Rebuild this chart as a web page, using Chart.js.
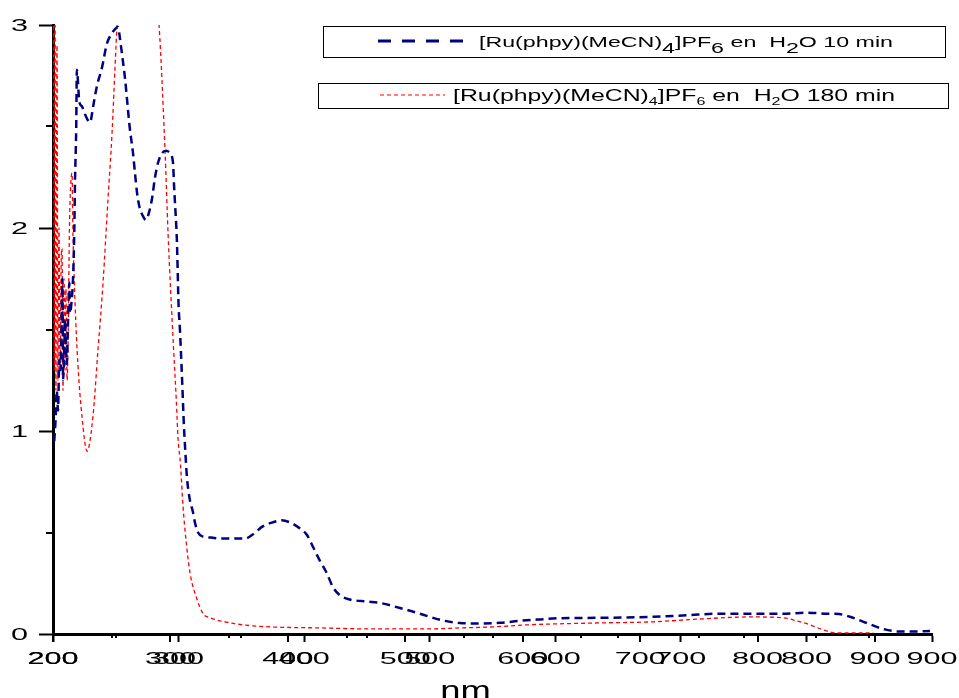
<!DOCTYPE html>
<html>
<head>
<meta charset="utf-8">
<script src="https://cdn.jsdelivr.net/npm/chart.js@4.4.1/dist/chart.umd.min.js"></script>
<style>
  html, body { margin: 0; padding: 0; background: #fff; }
  #wrap { width: 959px; height: 698px; }
</style>
</head>
<body>
<div id="wrap"><canvas id="spectra" width="959" height="698"></canvas></div>
<script>
'use strict';

// ── Data ──
// 10 min spectrum, plotted against the lower (200–900) axis
const blueNm = [
  201, 202, 203, 204, 205, 206, 207, 207.5, 208, 209, 209.5, 210, 211, 212, 213, 213.5, 214.5, 216, 217, 217.5,
  218.5, 219, 221, 223, 225.5, 229.5, 232, 235, 239, 243, 246, 249.4, 251.8, 253.4, 255.5, 257.3, 259, 261,
  263.7, 265.3, 267, 269, 271.5, 274, 277, 279, 281, 283.6, 287, 290, 293, 295.6, 296.4, 297, 298.7, 300, 301,
  302.7, 304.3, 305, 306.7, 309, 311.5, 313, 315.5, 319.5, 326, 333, 340, 346.5, 353, 359, 367, 375, 382,
  388.7, 396.7, 402, 407, 412.6, 418, 423, 428.6, 436.5, 450, 460.4, 476.3, 492.3, 508.2, 524, 540, 556, 572,
  588, 603.8, 643.6, 677.8, 705, 728.8, 755, 781.3, 800, 816.4, 826, 834.7, 848, 861, 874.5, 886, 898.4
];
const blueAbs = [
  0.95, 1.05, 1.2, 1.1, 1.35, 1.3, 1.6, 1.75, 1.25, 1.4, 1.55, 1.45, 1.33, 1.55, 1.73, 1.58, 1.62, 1.76, 2.0, 2.22,
  2.5, 2.78, 2.62, 2.6, 2.56, 2.52, 2.6, 2.7, 2.79, 2.91, 2.95, 2.98, 2.99, 2.93, 2.83, 2.74, 2.63, 2.5,
  2.37, 2.27, 2.17, 2.1, 2.06, 2.04, 2.09, 2.15, 2.24, 2.32, 2.37, 2.38, 2.37, 2.32, 2.21, 2.14, 1.93, 1.62, 1.51,
  1.27, 1.02, 0.94, 0.77, 0.66, 0.6, 0.55, 0.5, 0.48, 0.475, 0.47, 0.47, 0.47, 0.47, 0.49, 0.53, 0.55, 0.56,
  0.55, 0.52, 0.49, 0.43, 0.36, 0.3, 0.23, 0.19, 0.17, 0.16, 0.153, 0.128, 0.1, 0.07, 0.054, 0.052, 0.055, 0.065,
  0.072, 0.078, 0.08, 0.085, 0.092, 0.1, 0.1, 0.1, 0.105, 0.1, 0.098, 0.085, 0.054, 0.025, 0.012, 0.012, 0.015
];

// 180 min spectrum, plotted against the second, compressed axis
const redNm = [
  200.5, 201, 201.7, 202.5, 203.4, 204.2, 205.1, 206, 207, 207.7, 208.5, 209.4, 210.2, 211, 212, 213, 214, 215,
  216.2, 217, 218.7, 221.3, 224.7, 229, 234, 238.3, 242.6, 246.8, 250.3, 252.8, 254.5, 258, 264, 271, 278, 285,
  290.3, 295.4, 298, 302, 305, 306.5, 308.5, 310.7, 313.3, 316.7, 322.7, 327.8, 333.7, 350.8, 361.8, 384.8,
  427.4, 470, 518.6, 546.7, 574.8, 603.7, 660, 711, 751, 793.7, 821.8, 833.7, 844.8, 855.9, 867.8, 898.5
];
const redAbs = [
  3.2, 1.3, 3.1, 1.2, 2.9, 1.25, 2.0, 1.3, 1.85, 1.9, 1.2, 1.75, 1.3, 1.7, 1.25, 1.5, 2.0, 2.2,
  2.27, 1.97, 1.64, 1.32, 1.07, 0.9, 1.07, 1.4, 1.73, 2.14, 2.47, 2.79, 2.99, 3.3, 3.55, 3.65, 3.55, 3.3,
  3.0, 2.38, 1.97, 1.48, 1.15, 0.96, 0.84, 0.63, 0.46, 0.3, 0.17, 0.1, 0.08, 0.055, 0.045, 0.035,
  0.03, 0.025, 0.025, 0.03, 0.035, 0.045, 0.054, 0.06, 0.074, 0.084, 0.08, 0.064, 0.045, 0.02, 0.005, 0.005
];

const xTicks = [200, 300, 400, 500, 600, 700, 800, 900];
const xMinorTicks = [250, 350, 450, 550, 650, 750, 850];
const yTicks = [0, 1, 2, 3];
const yMinorTicks = [0.5, 1.5, 2.5];

// legend text, [piece, isSubscript]
const seriesLabels = [
  [['[Ru(phpy)(MeCN)', 0], ['4', 1], [']PF', 0], ['6', 1], [' en  H', 0], ['2', 1], ['O 10 min', 0]],
  [['[Ru(phpy)(MeCN)', 0], ['4', 1], [']PF', 0], ['6', 1], [' en  H', 0], ['2', 1], ['O 180 min', 0]],
];
const axisTitle = 'nm';

const FONT = "'Liberation Sans', Arial, sans-serif";

// ── helpers ──
function tick(ctx, x1, y1, x2, y2) {
  ctx.beginPath();
  ctx.moveTo(x1, y1);
  ctx.lineTo(x2, y2);
  ctx.stroke();
}

// the original picture is stretched sideways, so text gets a horizontal scale
function wideText(ctx, text, x, y, size, sx, align) {
  ctx.save();
  ctx.translate(x, y);
  ctx.scale(sx, 1);
  ctx.font = size + 'px ' + FONT;
  ctx.textAlign = align || 'center';
  ctx.textBaseline = 'alphabetic';
  ctx.fillStyle = '#000';
  ctx.fillText(text, 0, 0);
  ctx.restore();
}

function legendText(ctx, parts, x, y, size, subSize, subDrop, width) {
  let natural = 0;
  parts.forEach(([t, sub]) => {
    ctx.font = (sub ? subSize : size) + 'px ' + FONT;
    natural += ctx.measureText(t).width;
  });
  ctx.save();
  ctx.translate(x, y);
  ctx.scale(width / natural, 1);
  ctx.fillStyle = '#000';
  ctx.textAlign = 'left';
  ctx.textBaseline = 'alphabetic';
  let cx = 0;
  parts.forEach(([t, sub]) => {
    ctx.font = (sub ? subSize : size) + 'px ' + FONT;
    ctx.fillText(t, cx, sub ? subDrop : 0);
    cx += ctx.measureText(t).width;
  });
  ctx.restore();
}

// ── axes labels, extra ticks and legend boxes ──
const decorPlugin = {
  id: 'decor',
  afterDraw(chart) {
    const ctx = chart.ctx;
    const { x, x2, y } = chart.scales;
    const area = chart.chartArea;
    ctx.save();
    ctx.strokeStyle = '#000';
    ctx.lineWidth = 2;

    yMinorTicks.forEach((v) => {
      const py = Math.round(y.getPixelForValue(v));
      tick(ctx, area.left - 7, py, area.left, py);
    });
    xMinorTicks.forEach((v) => {
      const p1 = Math.round(x.getPixelForValue(v));
      const p2 = Math.round(x2.getPixelForValue(v));
      tick(ctx, p1, area.bottom, p1, area.bottom + 4);
      tick(ctx, p2, area.bottom, p2, area.bottom + 4);
    });
    xTicks.forEach((v) => {
      const p2 = Math.round(x2.getPixelForValue(v));
      tick(ctx, p2, area.bottom, p2, area.bottom + 8);
    });

    // tick labels, both x axes
    xTicks.forEach((v) => {
      wideText(ctx, String(v), x2.getPixelForValue(v), 664, 17, 1.8);
      wideText(ctx, String(v), x.getPixelForValue(v), 664, 17, 1.8);
    });
    yTicks.forEach((v) => {
      wideText(ctx, String(v), 28, y.getPixelForValue(v) + 6, 17, 1.8, 'right');
    });
    wideText(ctx, axisTitle, (area.left + area.right) / 2 - 27, 699, 26, 1.4);

    // legend 1
    ctx.lineWidth = 1;
    ctx.strokeRect(323.5, 26.5, 622, 31);
    ctx.strokeStyle = '#000080';
    ctx.lineWidth = 3;
    ctx.setLineDash([13, 11]);
    tick(ctx, 378, 41, 470, 41);
    ctx.setLineDash([]);
    legendText(ctx, seriesLabels[0], 479, 47, 15, 15, 6, 414);

    // legend 2
    ctx.strokeStyle = '#000';
    ctx.lineWidth = 1;
    ctx.strokeRect(318.5, 83.5, 630, 25);
    ctx.strokeStyle = '#ff0000';
    ctx.lineWidth = 1.2;
    ctx.setLineDash([4, 3]);
    tick(ctx, 380, 95, 445, 95);
    ctx.setLineDash([]);
    legendText(ctx, seriesLabels[1], 453, 101, 17, 11, 4, 442);
    ctx.restore();
  }
};

const toPoints = (xs, ys) => xs.map((v, i) => ({ x: v, y: ys[i] }));

new Chart(document.getElementById('spectra'), {
  type: 'line',
  data: {
    datasets: [
      {
        label: '[Ru(phpy)(MeCN)4]PF6 en H2O 10 min',
        data: toPoints(blueNm, blueAbs),
        xAxisID: 'x',
        yAxisID: 'y',
        borderColor: '#000080',
        borderWidth: 2.5,
        borderDash: [8, 5],
        pointRadius: 0,
        fill: false,
        cubicInterpolationMode: 'monotone',
      },
      {
        label: '[Ru(phpy)(MeCN)4]PF6 en H2O 180 min',
        data: toPoints(redNm, redAbs),
        xAxisID: 'x2',
        yAxisID: 'y',
        borderColor: '#ff0000',
        borderWidth: 1.3,
        borderDash: [4, 3],
        pointRadius: 0,
        fill: false,
        cubicInterpolationMode: 'monotone',
      },
    ],
  },
  options: {
    responsive: false,
    animation: false,
    layout: { padding: { top: 25, right: 27, left: 0, bottom: 0 } },
    plugins: { legend: { display: false }, tooltip: { enabled: false } },
    scales: {
      x: {
        type: 'linear', position: 'bottom', min: 200, max: 900,
        ticks: { display: false, stepSize: 100 },
        grid: { drawOnChartArea: false, tickLength: 8, tickWidth: 2, tickColor: '#000' },
        border: { color: '#000', width: 3 },
        afterFit: (s) => { s.height = 64; },
      },
      x2: {
        type: 'linear', position: 'bottom', min: 200, max: 948.5,
        display: false,
      },
      y: {
        min: 0, max: 3,
        ticks: { display: false, stepSize: 1 },
        grid: { drawOnChartArea: false, tickLength: 14, tickWidth: 2, tickColor: '#000' },
        border: { color: '#000', width: 3 },
        afterFit: (s) => { s.width = 53; },
      },
    },
  },
  plugins: [decorPlugin],
});
</script>
</body>
</html>
